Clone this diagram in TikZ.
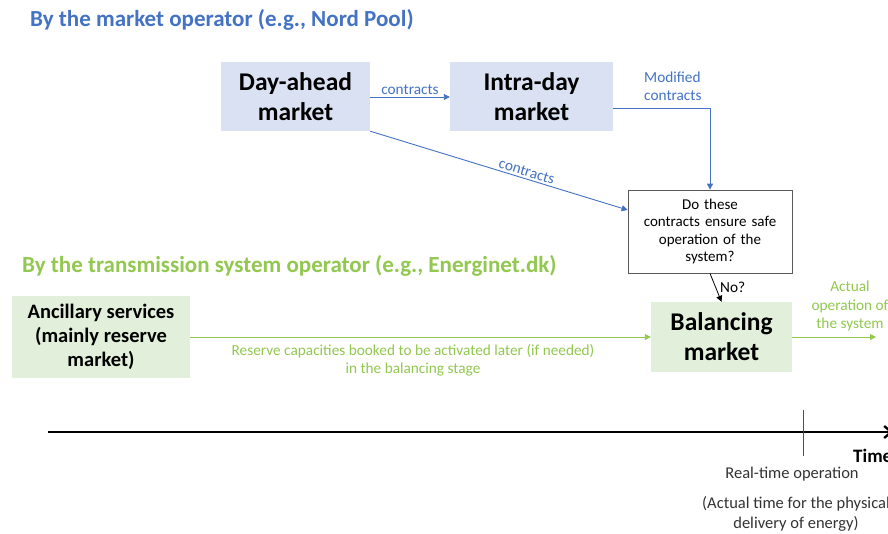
\documentclass[tikz,border=0pt]{standalone}
\usepackage{fontspec}
\setmainfont{Carlito}
\usetikzlibrary{arrows.meta}
\definecolor{mblue}{HTML}{4472C4}
\definecolor{mgreen}{HTML}{92C850}
\definecolor{bluefill}{HTML}{D9E1F2}
\definecolor{greenfill}{HTML}{E2EFDA}
\definecolor{qborder}{HTML}{595959}
\tikzset{
  bigbox/.style={inner sep=0pt, align=center, font=\fontsize{25.5}{30}\selectfont\bfseries},
  bluebox/.style={bigbox, fill=bluefill},
  greenbox/.style={bigbox, fill=greenfill},
  smalltxt/.style={font=\fontsize{15.3}{18}\selectfont, align=center, inner sep=1pt},
  bluearrow/.style={draw=mblue, line width=0.9pt, -{Triangle[length=6pt,width=6pt]}},
  greenarrow/.style={draw=mgreen, line width=0.9pt, -{Triangle[length=6pt,width=6pt]}},
}
\begin{document}
\begin{tikzpicture}[x=1pt,y=-1pt]
\useasboundingbox (0,0) rectangle (888,533);
\fill[white] (0,0) rectangle (888,533);

% section titles
\node[anchor=west, text=mblue, font=\fontsize{23}{26}\selectfont\bfseries, inner sep=0pt]
  (t1) at (30,20) {By the market operator (e.g., Nord Pool)};
\node[anchor=west, text=mgreen, font=\fontsize{23}{26}\selectfont\bfseries, inner sep=0pt]
  (t2) at (22,266) {By the transmission system operator (e.g., Energinet.dk)};

% market boxes
\node[bluebox, minimum width=149pt, minimum height=69pt] (da) at (295.5,96.5) {Day-ahead\\market};
\node[bluebox, minimum width=163pt, minimum height=69pt] (id) at (531.5,96.5) {Intra-day\\market};

% safety check
\node[draw=qborder, line width=0.8pt, minimum width=164pt, minimum height=83pt,
      smalltxt, font=\fontsize{15}{17.4}\selectfont, text width=156pt] (q) at (710,231.5)
  {Do these\\contracts ensure safe\\operation of the\\system?};

% TSO boxes
\node[greenbox, minimum width=178pt, minimum height=82pt,
      font=\fontsize{20.5}{24}\selectfont\bfseries] (anc) at (101,337) {Ancillary services\\(mainly reserve\\market)};
\node[greenbox, minimum width=141pt, minimum height=70pt] (bal) at (721.5,337) {Balancing\\market};

% contract flows
\draw[bluearrow] (da.east |- 0,97) -- node[smalltxt, text=mblue, above, yshift=1pt] (l1) {contracts} (id.west |- 0,97);
\draw[bluearrow] (id.east |- 0,108) -- (q.north |- 0,108) -- (q.north);
\node[smalltxt, text=mblue, align=left, anchor=west] (l2) at (643,86.5) {Modified\\contracts};
\coordinate (qin) at (q.west |- 0,210);
\draw[bluearrow] (da.south east) -- node[smalltxt, text=mblue, sloped, above, pos=0.6, yshift=1pt] (l3) {contracts} (qin);

% check outcome
\draw[draw=black, line width=0.8pt, -{Triangle[length=6pt,width=6pt]}] (q.south) -- (bal.north);
\node[smalltxt, anchor=west] (no) at (719,287) {No?};

% reserve and operation flows
\draw[greenarrow] (anc.east) -- (bal.west);
\node[smalltxt, text=mgreen] (l4) at (413,360) {Reserve capacities booked to be activated later (if needed)\\in the balancing stage};
\coordinate (out) at (876,337);
\draw[greenarrow] (bal.east) -- (out);
\node[smalltxt, font=\fontsize{15.3}{18.5}\selectfont, text=mgreen] (l5) at (850,306) {Actual\\operation of\\the system};

% time axis
\coordinate (ts) at (48,432);
\coordinate (te) at (893,432);
\draw[line width=2.4pt, -{Straight Barb[length=7pt,width=12pt]}] (ts) -- (te);
\coordinate (rt1) at (803,410);
\coordinate (rt2) at (803,456);
\draw[line width=0.4pt, draw=black!70] (rt1) -- (rt2);
\node[anchor=west, font=\fontsize{19}{22}\selectfont\bfseries, inner sep=0pt] (time) at (853,456) {Time};
\node[smalltxt, font=\fontsize{16.5}{19}\selectfont, text=black!80] (rt) at (792,474) {Real-time operation};
\node[smalltxt, font=\fontsize{16.5}{20}\selectfont, text=black!80] (rtd) at (796,514) {(Actual time for the physical\\delivery of energy)};
\end{tikzpicture}
\end{document}
